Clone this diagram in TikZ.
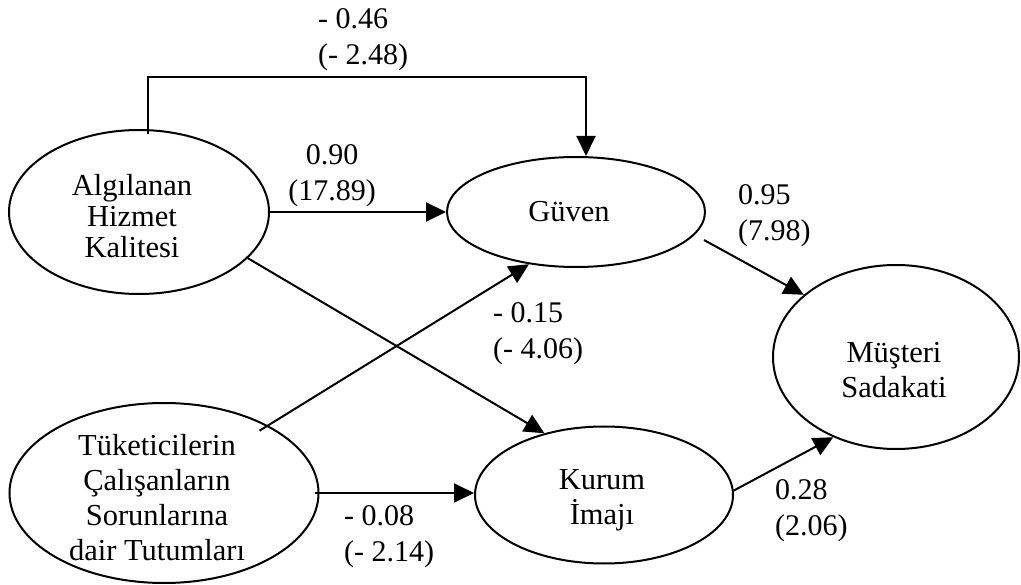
\documentclass[tikz,border=0pt]{standalone}
\usepackage{fontspec}
\setmainfont{Liberation Serif}
\usetikzlibrary{shapes.geometric,arrows.meta,calc}
\begin{document}
\begin{tikzpicture}[x=1pt,y=-1pt,
  ell/.style={draw, ellipse, inner sep=0pt, line width=2pt},
  txt/.style={align=center, inner sep=0pt, font=\fontsize{30.5}{35}\selectfont},
  lbl/.style={align=left, anchor=west, inner sep=0pt, font=\fontsize{30}{36}\selectfont},
  conn/.style={line width=2pt, -{Triangle[length=20pt,width=19pt]}},
]
\useasboundingbox (0,0) rectangle (1021,585);

% ellipses
\node[ell, minimum width=260pt, minimum height=164pt] (A) at (139,212) {};
\node[ell, minimum width=309pt, minimum height=180pt] (T) at (164,493) {};
\node[ell, minimum width=258pt, minimum height=110pt] (G) at (576,212) {};
\node[ell, minimum width=258pt, minimum height=137pt] (K) at (604,495) {};
\node[ell, minimum width=246pt, minimum height=184pt] (M) at (896,357) {};

% texts
\node[txt, font=\fontsize{30.5}{31}\selectfont] (At) at (132,216) {Algılanan\\Hizmet\\Kalitesi};
\node[txt] (Tt) at (157,498) {Tüketicilerin\\Çalışanların\\Sorunlarına\\dair Tutumları};
\node[txt] (Gt) at (569,212) {Güven};
\node[txt] (Kt) at (602,500) {Kurum\\İmajı};
\node[txt] (Mt) at (894,370) {Müşteri\\Sadakati};

% connectors
\coordinate (a0) at ($(A.north)+(9,5)$);
\coordinate (atop) at (360,77);
\coordinate (g0) at ($(G.north)+(10,0)$);
\draw[conn] (a0) |- (atop) -| (g0);
\draw[conn] (A.east) -- (G.west);
\draw[conn] (A.-23) -- (K.134);
\draw[conn] ($(T.33)!-10pt!(G.228)$) -- (G.228);
\draw[conn] ($(T.east)+(-5,0)$) -- (T.east -| K.west);
\draw[conn] ($(G.east)+(-2,28)$) -- (M.146);
\draw[conn] ($(K.east)+(-1,-4)$) -- (M.232);

% labels
\node[lbl] (l1) at (318,40) {- 0.46\\(- 2.48)};
\node[lbl, anchor=center, align=center] (l2) at (332,176) {0.90\\(17.89)};
\node[lbl] (l3) at (738,216) {0.95\\(7.98)};
\node[lbl] (l4) at (493,334) {- 0.15\\(- 4.06)};
\node[lbl] (l5) at (344,537) {- 0.08\\(- 2.14)};
\node[lbl] (l6) at (775,511) {0.28\\(2.06)};
\end{tikzpicture}
\end{document}
